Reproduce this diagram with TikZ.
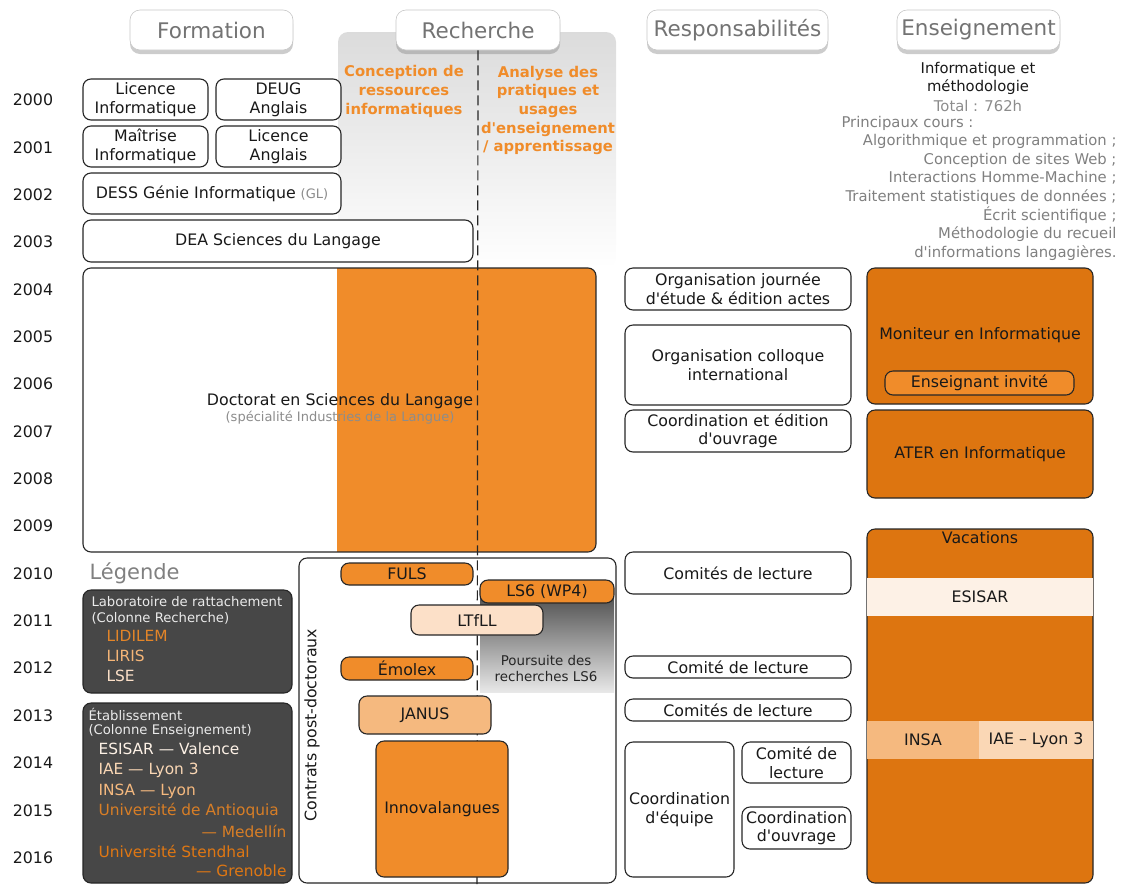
\documentclass[tikz,border=0pt]{standalone}
\usepackage{fontspec}
\setmainfont{DejaVu Sans}
\usepackage{tikz}
\usetikzlibrary{calc,backgrounds,positioning,fit}
\usetikzlibrary{shapes,arrows,shadows}

\definecolor{orangeA}{HTML}{F08C2A}
\definecolor{orangeB}{HTML}{F5B97F}
\definecolor{peche}{HTML}{FCE0C8}
\definecolor{orangeD}{HTML}{DD7510}
\definecolor{creme}{HTML}{FDF1E6}
\definecolor{iaecol}{HTML}{FAD7B5}
\definecolor{legfond}{HTML}{474747}
\definecolor{gristxt}{HTML}{8C8C8C}
\newcommand{\ap}{\textquotesingle}

\begin{document}
\begin{tikzpicture}[x=1pt,y=-1pt,
  every node/.style={font=\fontsize{15.8}{18.6}\selectfont,text=black!90},
  box/.style={draw=black!85,line width=1.1pt,rounded corners=8pt,fill=white,align=center,inner sep=1pt},
  entete/.style={draw=black!22,line width=0.6pt,fill=white,rounded corners=10pt,minimum height=40pt,
    text=black!55,font=\fontsize{21.5}{24}\selectfont,inner sep=2pt,
    drop shadow={shadow xshift=0pt,shadow yshift=-4pt,opacity=0.4}},
  titre/.style={align=center,text=orangeA,font=\fontsize{14.8}{18.7}\selectfont\bfseries},
  legbox/.style={draw=black!85,line width=1.1pt,rounded corners=8pt,fill=legfond},
  legtxt/.style={anchor=west,text=white!92!black,font=\fontsize{13.2}{16}\selectfont},
  legitem/.style={anchor=west,font=\fontsize{15.4}{18}\selectfont},
  bande/.style={inner sep=0pt,minimum height=38pt}]
\useasboundingbox (0,0) rectangle (1123,884);

% fond gris colonne recherche
\shade[top color=black!14,bottom color=white,rounded corners=10pt] (338,32) rectangle (616,268);

% en-tetes
\node[entete,minimum width=163pt] (formation) at (211.5,30) {Formation};
\node[entete,minimum width=164pt] (recherche) at (478,30) {Recherche};
\node[entete,minimum width=181pt] (respons) at (737.5,30) {Responsabilités};
\node[entete,minimum width=163pt] (enseign) at (978.5,30) {Enseignement};

% annees
\foreach \an in {2000,...,2016}
  \node (an\an) at (33,{100+47.35*(\an-2000)}) {\an};

\node[titre] (conception) at (404,91.5) {Conception de\\ressources\\informatiques};
\node[titre] (analyse) at (548,110.5) {Analyse des\\pratiques et\\usages\\d\ap enseignement\\/ apprentissage};

% formation
\node[box,minimum width=125pt,minimum height=41pt] (licinfo) at (145.5,99.5) {Licence\\Informatique};
\node[box,minimum width=125pt,minimum height=41pt] (deug) at (278.5,99.5) {DEUG\\Anglais};
\node[box,minimum width=125pt,minimum height=41pt] (maitrise) at (145.5,146.5) {Maîtrise\\Informatique};
\node[box,minimum width=125pt,minimum height=41pt] (licang) at (278.5,146.5) {Licence\\Anglais};
\node[box,minimum width=258pt,minimum height=41pt] (dess) at (212,193.5)
  {DESS Génie Informatique {\color{gristxt}\fontsize{13}{15}\selectfont(GL)}};
\node[box,minimum width=390pt,minimum height=42pt] (dea) at (278,241) {DEA Sciences du Langage};
\node[box,minimum width=513pt,minimum height=284pt,
  path picture={\fill[orangeA,sharp corners] ([xshift=-259pt]path picture bounding box.north east) rectangle (path picture bounding box.south east);}]
  (doctorat) at (339.5,410) {};
\node[align=center] (doctxt) at (340,409) {Doctorat en Sciences du Langage\\[-3pt]
  {\color{gristxt}\fontsize{13}{15}\selectfont(spécialité Industries de la Langue)}};

% contrats post-doctoraux
\node[box,minimum width=317pt,minimum height=325pt] (postdoc) at (457.5,720.5) {};
\node[rotate=90] (postdoctxt) at (312,725) {Contrats post-doctoraux};
\shade[top color=black!68,bottom color=black!9] (480,596) rectangle (614,692);
\node[align=center,text=black!85,font=\fontsize{13.4}{16}\selectfont] (poursuite) at (546,668) {Poursuite des\\recherches LS6};

\draw[black!85,line width=1.2pt,dash pattern=on 10pt off 5pt] (recherche.south) -- (477,884);

\node[box,fill=orangeA,minimum width=132pt,minimum height=22pt] (fuls) at (407,574) {FULS};
\node[box,fill=orangeA,minimum width=134pt,minimum height=23pt] (ls6) at (547,591.5) {LS6 (WP4)};
\node[box,fill=peche,minimum width=132pt,minimum height=30pt] (ltfll) at (477,620) {LTfLL};
\node[box,fill=orangeA,minimum width=132pt,minimum height=23pt] (emolex) at (407,668.5) {Émolex};
\node[box,fill=orangeB,minimum width=132pt,minimum height=38pt] (janus) at (425,715) {JANUS};
\node[box,fill=orangeA,minimum width=132pt,minimum height=136pt] (innova) at (442,809) {Innovalangues};

% legende
\node[anchor=west,text=black!50,font=\fontsize{21}{24}\selectfont] (legende) at (86,573) {Légende};
\node[legbox,minimum width=209pt,minimum height=103pt] (labo) at (187.5,641.5) {};
\node[legtxt] (labo1) at (88,602) {Laboratoire de rattachement};
\node[legtxt] (labo2) at (88,618) {(Colonne Recherche)};
\node[legitem,text=orangeA!95!black] (lidilem) at (103,636) {LIDILEM};
\node[legitem,text=orangeB!90!orangeA] (liris) at (103,656) {LIRIS};
\node[legitem,text=peche] (lse) at (103,676) {LSE};
\node[legbox,minimum width=209pt,minimum height=180pt] (etab) at (187.5,793) {};
\node[legtxt] (etab1) at (85,714) {Établissement};
\node[legtxt] (etab2) at (85,731) {(Colonne Enseignement)};
\node[legitem,text=creme] (esisarL) at (95,749) {ESISAR — Valence};
\node[legitem,text=iaecol] (iaeL) at (95,770) {IAE — Lyon 3};
\node[legitem,text=orangeB] (insaL) at (95,791) {INSA — Lyon};
\node[legitem,text=orangeA!90!black] (antioquia) at (95,811) {Université de Antioquia};
\node[legitem,anchor=east,text=orangeA!90!black] (medellin) at (290,831) {— Medellín};
\node[legitem,text=orangeD!90!orangeA] (stendhal) at (95,851) {Université Stendhal};
\node[legitem,anchor=east,text=orangeD!90!orangeA] (grenoble) at (290,871) {— Grenoble};

% responsabilites
\node[box,minimum width=226pt,minimum height=42pt] (journee) at (738,289) {Organisation journée\\d\ap étude \& édition actes};
\node[box,minimum width=226pt,minimum height=80pt] (colloque) at (738,365) {Organisation colloque\\international};
\node[box,minimum width=226pt,minimum height=42pt] (coordedit) at (738,431) {Coordination et édition\\d\ap ouvrage};
\node[box,minimum width=226pt,minimum height=42pt] (comites1) at (738,573) {Comités de lecture};
\node[box,minimum width=226pt,minimum height=22pt] (comite2) at (738,667) {Comité de lecture};
\node[box,minimum width=226pt,minimum height=22pt] (comites3) at (738,710) {Comités de lecture};
\node[box,minimum width=109pt,minimum height=135pt] (coordeq) at (679.5,809.5) {Coordination\\d\ap équipe};
\node[box,minimum width=109pt,minimum height=41pt] (comite4) at (796.5,762.5) {Comité de\\lecture};
\node[box,minimum width=109pt,minimum height=42pt] (coordouv) at (796.5,828) {Coordination\\d\ap ouvrage};

% enseignement
\node[align=center,font=\fontsize{14.8}{18.7}\selectfont] (infometh) at (978,78.5) {Informatique et\\méthodologie};
\node[text=black!45,font=\fontsize{14.8}{18.7}\selectfont] (total) at (978,106) {Total : 762h};
\node[anchor=west,text=black!50,font=\fontsize{14.8}{18.7}\selectfont] (princ) at (838,123) {Principaux cours :};
\node[anchor=east,align=right,text=black!50,font=\fontsize{14.8}{18.7}\selectfont] (cours) at (1120,197.5)
  {Algorithmique et programmation ;\\Conception de sites Web ;\\Interactions Homme-Machine ;\\
   Traitement statistiques de données ;\\Écrit scientifique ;\\Méthodologie du recueil\\d\ap informations langagières.};

\node[box,fill=orangeD,minimum width=226pt,minimum height=136pt] (moniteur) at (980,336) {};
\node (monitxt) at (980,335) {Moniteur en Informatique};
\node[box,fill=orangeA,minimum width=189pt,minimum height=24pt] (invite) at (979.5,383) {Enseignant invité};
\node[box,fill=orangeD,minimum width=226pt,minimum height=88pt] (ater) at (980,454) {ATER en Informatique};
\node[box,fill=orangeD,minimum width=226pt,minimum height=354pt] (vacations) at (980,706) {};
\node (vactxt) at (980,538) {Vacations};
\node[bande,fill=creme,minimum width=226pt] (esisar) at (980,597) {ESISAR};
\node[bande,fill=orangeB,minimum width=112pt] (insa) at (923,740) {INSA};
\node[bande,fill=iaecol,minimum width=114pt] (iae) at (1036,740) {IAE – Lyon 3};
\end{tikzpicture}
\end{document}
